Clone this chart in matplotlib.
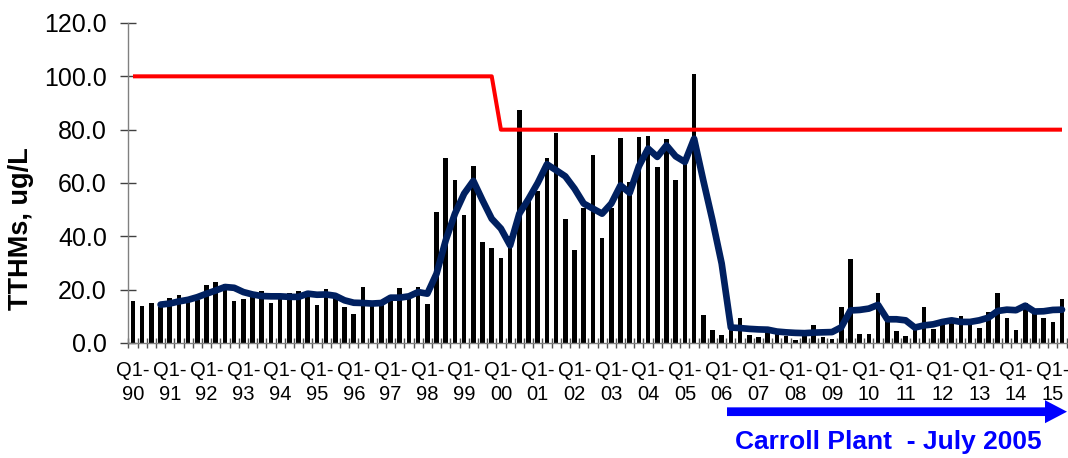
import matplotlib
matplotlib.use("Agg")
import matplotlib.pyplot as plt
from matplotlib.patches import FancyArrow
import numpy as np

plt.rcParams['font.family'] = ['Liberation Sans', 'DejaVu Sans']

# ---- data (quarterly, Q1-90 .. Q2-15) ----
tthm_quarterly = [
    15.7, 13.9, 15.0, 13.5, 16.9, 17.9, 15.5, 16.0, 21.9, 22.9,
    22.2, 15.9, 16.6, 17.8, 19.6, 15.0, 17.2, 18.8, 19.4, 19.2,
    14.4, 20.1, 16.8, 13.5, 10.9, 21.0, 15.0, 14.8, 17.5, 20.5,
    17.0, 21.0, 14.8, 49.0, 69.5, 61.2, 48.0, 66.5, 38.0, 35.5,
    31.8, 40.0, 87.5, 54.8, 56.9, 69.5, 78.8, 46.4, 34.8, 50.5,
    70.6, 39.4, 50.5, 76.8, 60.5, 77.4, 77.5, 66.1, 76.5, 61.0,
    68.0, 100.8, 10.4, 4.8, 2.9, 5.0, 9.4, 3.1, 2.3, 5.0,
    5.0, 2.5, 1.3, 4.5, 6.6, 2.3, 1.4, 13.5, 31.4, 3.5,
    3.5, 18.8, 9.0, 4.4, 2.6, 7.0, 13.5, 5.3, 7.0, 8.5,
    10.0, 7.0, 5.8, 11.6, 18.8, 9.4, 4.8, 15.1, 12.9, 9.5,
    8.0, 16.6,
]

# running annual average (starts at 4th quarter)
raa_start = 3
raa_values = [
    14.4, 14.8, 15.6, 16.2, 17.2, 18.5, 19.7, 21.0, 20.7, 19.1,
    18.2, 17.6, 17.5, 17.5, 17.3, 17.3, 18.5, 18.1, 18.2, 17.7,
    16.0, 15.1, 15.0, 14.8, 15.0, 17.0, 17.0, 17.5, 19.1, 18.5,
    26.0, 38.5, 48.5, 56.0, 60.8, 53.5, 46.6, 42.9, 36.6, 48.5,
    54.0, 60.0, 67.0, 64.8, 62.5, 57.9, 52.3, 50.4, 48.5, 52.3,
    59.1, 56.3, 66.3, 72.9, 69.8, 74.1, 70.0, 67.9, 76.6, 61.0,
    46.0, 29.8, 5.8, 5.6, 5.3, 5.1, 5.0, 4.3, 4.0, 3.8,
    3.7, 3.9, 4.0, 4.1, 5.9, 12.2, 12.4, 12.9, 14.3, 8.9,
    8.9, 8.5, 5.8, 6.6, 7.0, 7.9, 8.5, 7.9, 7.9, 8.5,
    9.5, 12.0, 12.5, 12.3, 14.0, 11.8, 11.9, 12.4, 12.5,
]

# MCL: 100 ug/L through Q4-99, 80 ug/L from Q1-00
mcl_values = [100.0] * 40 + [80.0] * 62

year_labels = ['90', '91', '92', '93', '94', '95', '96', '97', '98', '99',
               '00', '01', '02', '03', '04', '05', '06', '07', '08', '09',
               '10', '11', '12', '13', '14', '15']

y_ticks = [0, 20, 40, 60, 80, 100, 120]

# ---- figure ----
W, H = 1068, 458
AX_L, AX_W, AX_B, AX_H = 128.4, 938.2, 343, 320
fig = plt.figure(figsize=(W / 100, H / 100), dpi=100)
ax = fig.add_axes([AX_L / W, (H - AX_B) / H, AX_W / W, AX_H / H])

n = len(tthm_quarterly)
x = np.arange(n)
ax.bar(x, tthm_quarterly, width=0.5, color='black', zorder=2)
ax.plot(x, mcl_values, color='#FF0000', lw=2.9, zorder=3, solid_capstyle='butt')
ax.plot(x[raa_start:raa_start + len(raa_values)], raa_values, color='#002060',
        lw=4.8, zorder=4, solid_joinstyle='round', solid_capstyle='round')

ax.set_xlim(-0.5, n - 0.5)
ax.set_ylim(0, 120)

# spines
for s in ['top', 'right']:
    ax.spines[s].set_visible(False)
for s in ['left', 'bottom']:
    ax.spines[s].set_color('#808080')
    ax.spines[s].set_linewidth(1.0)

# y ticks
ax.set_yticks(y_ticks)
ax.set_yticklabels([f"{v:.1f}" for v in y_ticks], fontsize=18)
ax.tick_params(axis='y', direction='inout', length=11, width=1.0,
               color='#404040', pad=10)

# x ticks: marks at category boundaries, labels every 4 quarters
ax.set_xticks(np.arange(n + 1) - 0.5)
ax.set_xticklabels([])
ax.tick_params(axis='x', which='major', direction='inout', length=7, width=1.0,
               color='#555555')
label_pos = np.arange(0, 4 * len(year_labels), 4)
ax.set_xticks(label_pos, minor=True)
ax.set_xticklabels([f"Q1-\n{y}" for y in year_labels], minor=True, fontsize=14.5,
                   linespacing=1.3)
ax.tick_params(axis='x', which='minor', length=0, pad=13)

ax.set_ylabel('TTHMs, ug/L', fontsize=19.5, fontweight='bold')
ax.yaxis.set_label_coords(-(AX_L - 34) / AX_W, (AX_B - 229) / AX_H)

# arrow and annotation
arrow = FancyArrow(727 / 100, (H - 411.7) / 100, 3.18, 0,
                   width=0.087, head_width=0.23, head_length=0.22,
                   length_includes_head=False, color='#0000FF',
                   transform=fig.dpi_scale_trans, linewidth=0)
fig.add_artist(arrow)
fig.text(888 / W, (H - 441.7) / H, 'Carroll Plant  - July 2005', color='#0000FF',
         fontsize=19, fontweight='bold', ha='center', va='center')

fig.savefig('out.png', dpi=100)
